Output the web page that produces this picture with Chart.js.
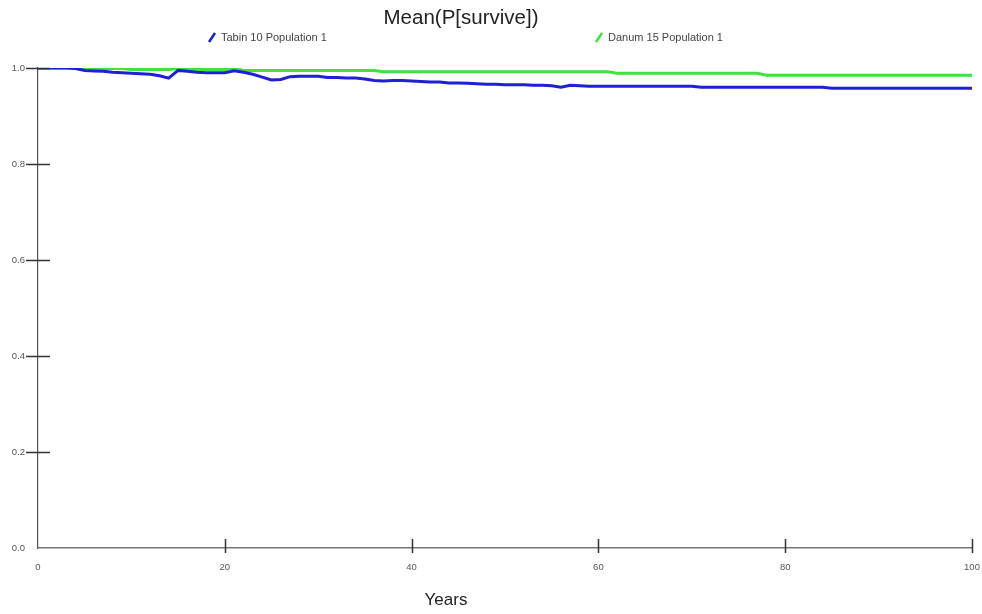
<!DOCTYPE html>
<html>
<head>
<meta charset="utf-8">
<title>Mean(P[survive])</title>
<script src="https://cdn.jsdelivr.net/npm/chart.js@4.4.0/dist/chart.umd.min.js"></script>
<style>
  html, body { margin: 0; padding: 0; background: #fff; }
  #wrap { position: relative; width: 982px; height: 614px; }
</style>
</head>
<body>
<div id="wrap"><canvas id="survivalChart"></canvas></div>
<script>
const chartTitle = 'Mean(P[survive])';
const xAxisTitle = 'Years';
const seriesNames = ['Tabin 10 Population 1', 'Danum 15 Population 1'];
const seriesColors = ['#1f1fd8', '#3fe03f'];

// Mean probability of survival per year (0..100)
const tabin = [
    1.000, 1.000, 1.000, 1.000, 0.999, 0.995, 0.994, 0.993, 0.991, 0.990,
    0.989, 0.988, 0.987, 0.984, 0.979, 0.995, 0.993, 0.991, 0.990, 0.990,
    0.990, 0.994, 0.991, 0.987, 0.981, 0.975, 0.976, 0.982, 0.983, 0.983,
    0.983, 0.980, 0.980, 0.979, 0.979, 0.977, 0.974, 0.973, 0.974, 0.974,
    0.973, 0.972, 0.971, 0.971, 0.969, 0.969, 0.968, 0.967, 0.966, 0.966,
    0.965, 0.965, 0.965, 0.964, 0.964, 0.963, 0.960, 0.964, 0.963, 0.962,
    0.962, 0.962, 0.962, 0.962, 0.962, 0.962, 0.962, 0.962, 0.962, 0.962,
    0.962, 0.960, 0.960, 0.960, 0.960, 0.960, 0.960, 0.960, 0.960, 0.960,
    0.960, 0.960, 0.960, 0.960, 0.960, 0.958, 0.958, 0.958, 0.958, 0.958,
    0.958, 0.958, 0.958, 0.958, 0.958, 0.958, 0.958, 0.958, 0.958, 0.958,
    0.958
];
const danum = [
    1.000, 1.000, 1.000, 1.000, 1.000, 1.000, 0.999, 0.999, 0.999, 0.999,
    0.997, 0.997, 0.997, 0.997, 0.997, 0.999, 0.997, 0.997, 0.997, 0.997,
    0.997, 0.999, 0.995, 0.995, 0.995, 0.995, 0.995, 0.995, 0.995, 0.995,
    0.995, 0.995, 0.995, 0.995, 0.995, 0.995, 0.995, 0.992, 0.992, 0.992,
    0.992, 0.992, 0.992, 0.992, 0.992, 0.992, 0.992, 0.992, 0.992, 0.992,
    0.992, 0.992, 0.992, 0.992, 0.992, 0.992, 0.992, 0.992, 0.992, 0.992,
    0.992, 0.992, 0.989, 0.989, 0.989, 0.989, 0.989, 0.989, 0.989, 0.989,
    0.989, 0.989, 0.989, 0.989, 0.989, 0.989, 0.989, 0.989, 0.985, 0.985,
    0.985, 0.985, 0.985, 0.985, 0.985, 0.985, 0.985, 0.985, 0.985, 0.985,
    0.985, 0.985, 0.985, 0.985, 0.985, 0.985, 0.985, 0.985, 0.985, 0.985,
    0.985
];
const years = tabin.map((_, i) => i);

// Tick labels
const xTicks = [0, 20, 40, 60, 80, 100];
const yTicks = [0.0, 0.2, 0.4, 0.6, 0.8, 1.0];

const FONT = 'Arial, "Liberation Sans", sans-serif';

// Title, legend, axis title and crossing tick marks
const decorations = {
    id: 'decorations',
    afterDraw(chart) {
        const ctx = chart.ctx;
        const xs = chart.scales.x;
        const ys = chart.scales.y;
        ctx.save();

        // tick marks
        ctx.strokeStyle = '#333';
        ctx.lineWidth = 1.5;
        yTicks.forEach(v => {
            if (v === 0) return;
            const py = Math.round(ys.getPixelForValue(v)) + 0.5;
            ctx.beginPath();
            ctx.moveTo(xs.left - 12, py);
            ctx.lineTo(xs.left + 12, py);
            ctx.stroke();
        });
        xTicks.forEach(v => {
            if (v === 0) return;
            const px = Math.round(xs.getPixelForValue(v)) + 0.5;
            ctx.beginPath();
            ctx.moveTo(px, ys.bottom - 9);
            ctx.lineTo(px, ys.bottom + 5);
            ctx.stroke();
        });

        // chart title
        ctx.fillStyle = '#222';
        ctx.font = '20.5px ' + FONT;
        ctx.textAlign = 'center';
        ctx.textBaseline = 'middle';
        ctx.fillText(chartTitle, 461, 18);

        // legend
        const legendX = [209, 596];
        ctx.font = '11px ' + FONT;
        ctx.textAlign = 'left';
        seriesNames.forEach((name, i) => {
            const x0 = legendX[i];
            ctx.strokeStyle = seriesColors[i];
            ctx.lineWidth = 2.5;
            ctx.beginPath();
            ctx.moveTo(x0, 42);
            ctx.lineTo(x0 + 6, 33);
            ctx.stroke();
            ctx.fillStyle = '#444';
            ctx.fillText(name, x0 + 12, 38);
        });

        // x axis title
        ctx.fillStyle = '#222';
        ctx.font = '17px ' + FONT;
        ctx.textAlign = 'center';
        ctx.fillText(xAxisTitle, 446, 600);

        ctx.restore();
    }
};

const ctx = document.getElementById('survivalChart').getContext('2d');

new Chart(ctx, {
    type: 'line',
    data: {
        datasets: [
            {
                label: seriesNames[0],
                data: years.map((yr, i) => ({ x: yr, y: tabin[i] })),
                borderColor: seriesColors[0],
                borderWidth: 3,
                pointRadius: 0,
                tension: 0
            },
            {
                label: seriesNames[1],
                data: years.map((yr, i) => ({ x: yr, y: danum[i] })),
                borderColor: seriesColors[1],
                borderWidth: 3,
                pointRadius: 0,
                tension: 0
            }
        ]
    },
    options: {
        responsive: true,
        maintainAspectRatio: false,
        animation: false,
        layout: {
            padding: { left: 0, top: 68, right: 0, bottom: 0 }
        },
        plugins: {
            legend: { display: false },
            title: { display: false },
            tooltip: { enabled: false }
        },
        scales: {
            x: {
                type: 'linear',
                min: 0,
                max: 100,
                afterBuildTicks: scale => {
                    scale.ticks = xTicks.map(v => ({ value: v }));
                },
                afterFit: scale => {
                    scale.height = 66;
                    scale.paddingLeft = 0;
                    scale.paddingRight = 10;
                },
                grid: { display: false },
                border: { display: true, color: '#777', width: 1.5 },
                ticks: {
                    padding: 6,
                    color: '#555',
                    font: { family: FONT, size: 9.5 },
                    maxRotation: 0,
                    callback: v => String(v)
                }
            },
            y: {
                type: 'linear',
                min: 0,
                max: 1,
                afterBuildTicks: scale => {
                    scale.ticks = yTicks.map(v => ({ value: v }));
                },
                afterFit: scale => { scale.width = 38; },
                grid: { display: false },
                border: { display: true, color: '#555', width: 1.2 },
                ticks: {
                    padding: 5,
                    color: '#555',
                    font: { family: FONT, size: 9.5 },
                    callback: v => v.toFixed(1)
                }
            }
        }
    },
    plugins: [decorations]
});
</script>
</body>
</html>
